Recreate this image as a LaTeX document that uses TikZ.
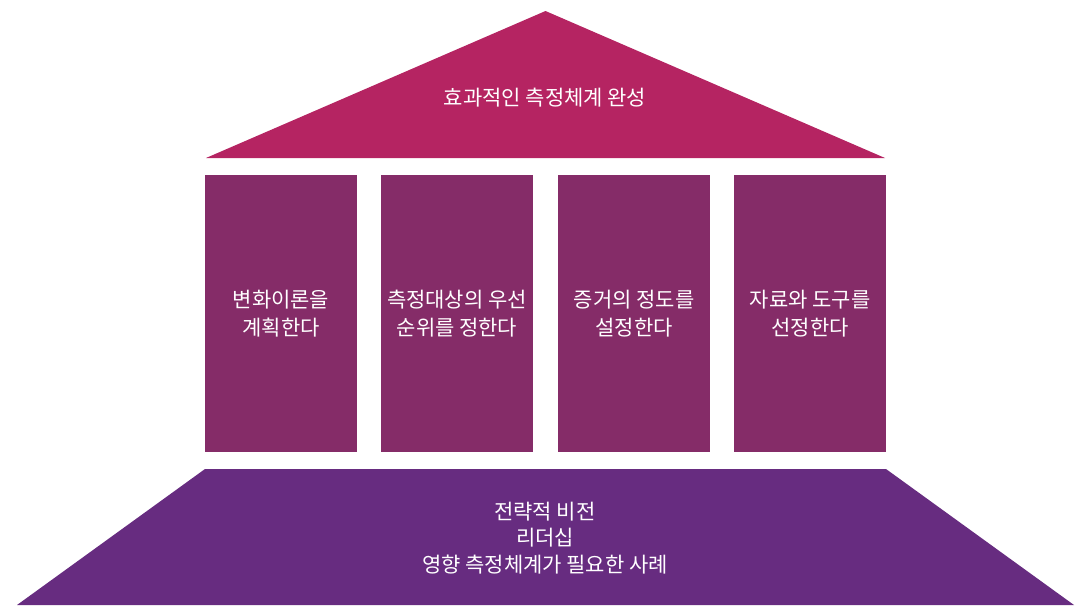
\documentclass[tikz,border=0pt]{standalone}
\usepackage{fontspec}
\setmainfont{Noto Sans CJK KR}
\usepackage{tikz}

\definecolor{roofcol}{HTML}{B52462}
\definecolor{pillarcol}{HTML}{852C68}
\definecolor{basecol}{HTML}{672C80}

\tikzset{
	pillar/.style={fill=pillarcol, minimum width=152pt, minimum height=277pt, inner sep=0pt,
		text=white, align=center, font=\fontsize{21}{28}\selectfont},
	label/.style={text=white, align=center, font=\fontsize{21}{26.5}\selectfont}
}

\begin{document}
\begin{tikzpicture}[x=1pt,y=-1pt]
		\useasboundingbox (0,0) rectangle (1075,605);
		\fill[roofcol] (206,158) -- (545.5,11) -- (885,158) -- cycle;
		\fill[basecol] (205,469) -- (886,469) -- (1074,605) -- (17,605) -- cycle;
		
		\node[label] (roof) at (545,98) {효과적인 측정체계 완성};
		
		\node[pillar] (p1) at (281,313.5) {변화이론을\\계획한다};
		\node[pillar] (p2) at (457,313.5) {측정대상의 우선\\순위를 정한다};
		\node[pillar] (p3) at (634,313.5) {증거의 정도를\\설정한다};
		\node[pillar] (p4) at (810,313.5) {자료와 도구를\\선정한다};
		
		\node[label] (base) at (545,538) {전략적 비전\\리더십\\영향 측정체계가 필요한 사례};
	\end{tikzpicture}
\end{document}
